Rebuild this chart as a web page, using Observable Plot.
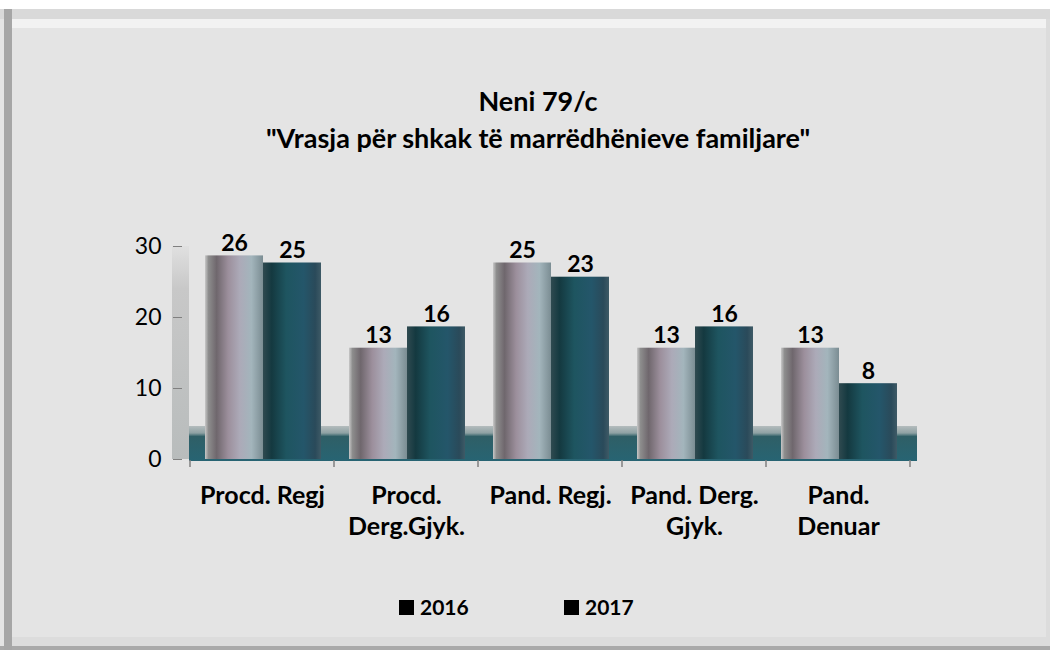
<!DOCTYPE html>
<html><head><meta charset="utf-8">
<script src="https://cdn.jsdelivr.net/npm/d3@7"></script>
<script src="https://cdn.jsdelivr.net/npm/@observablehq/plot@0.6"></script>
<style>
body{margin:0;background:#fff;font-family:Lato,"Noto Sans",sans-serif;}
#frame{position:relative;width:1050px;height:650px;overflow:hidden;background:#fff;}
.blk{position:absolute;}
#title{position:absolute;left:0;width:1076px;top:82px;text-align:center;font-weight:bold;font-size:27px;line-height:37px;color:#000;}
#chart{position:absolute;left:0;top:170px;}
#legend{position:absolute;left:0;top:0;width:1050px;height:650px;pointer-events:none;}
.sw{position:absolute;width:15px;height:15px;background:#000;}
.lt{position:absolute;font-weight:bold;font-size:21px;line-height:21px;color:#000;}
</style></head><body>
<div id="frame">
  <div class="blk" style="left:0;top:9px;width:1050px;height:637px;background:#e4e4e4"></div>
  <div class="blk" style="left:0;top:9px;width:1050px;height:10px;background:#d9d9d9"></div>
  <div class="blk" style="left:12px;top:19px;width:1034px;height:9px;background:#f2f2f2"></div>
  <div class="blk" style="left:12px;top:637px;width:1038px;height:9px;background:#dcdcdc"></div>
  <div class="blk" style="left:1046px;top:19px;width:4px;height:627px;background:#dcdcdc"></div>
  <div class="blk" style="left:0;top:646px;width:1050px;height:4px;background:#a9a9a9"></div>
  <div class="blk" style="left:4px;top:9px;width:8px;height:641px;background:#a6a6a6"></div>
  <div id="title"><div>Neni 79/c</div><div>"Vrasja për shkak të marrëdhënieve familjare"</div></div>
  <div id="chart"></div>
  <div id="legend"></div>
</div>
<script>
const categories = ["Procd. Regj", "Procd.\nDerg.Gjyk.", "Pand. Regj.", "Pand. Derg.\nGjyk.", "Pand.\nDenuar"];
const years = ["2016", "2017"];
const values2016 = [26, 13, 25, 13, 13];
const values2017 = [25, 16, 23, 16, 8];
const yTicks = [0, 10, 20, 30];

const rows2016 = categories.map((c, i) => ({category: c, year: years[0], value: values2016[i]}));
const rows2017 = categories.map((c, i) => ({category: c, year: years[1], value: values2017[i]}));

const depth = 19;             // 3D lift of the bar tops
const inset2016 = [15, 71];   // left, right inset inside category band
const inset2017 = [73, 13];

const decor = (index, scales, values, dims) => {
  const g = d3.create("svg:g");
  const defs = g.append("defs");
  const grad = (id, stops, vertical) => {
    const lg = defs.append("linearGradient").attr("id", id)
      .attr("x1", 0).attr("y1", 0).attr("x2", vertical ? 0 : 1).attr("y2", vertical ? 1 : 0);
    stops.forEach(([o, c]) => lg.append("stop").attr("offset", o).attr("stop-color", c));
  };
  grad("g2016", [[0, "#c8c8c8"], [0.06, "#8d8d8d"], [0.2, "#6f676d"], [0.4, "#9c8f9c"], [0.6, "#acaab8"], [0.8, "#a3b5bc"], [1, "#7b8d93"]]);
  grad("g2017", [[0, "#2f4a50"], [0.15, "#143940"], [0.4, "#1e5560"], [0.7, "#24566a"], [0.9, "#2a4a5a"], [1, "#3e5a66"]]);
  grad("gfloor", [[0, "#b4bcbd"], [0.2, "#8fa2a4"], [0.3, "#2f5f66"], [1, "#276473"]], true);
  grad("gwall", [[0, "#e0e0e0"], [0.2, "#c8c8c8"], [1, "#b8bcbc"]], true);
  const x0 = dims.marginLeft, x1 = dims.width - dims.marginRight;
  const y0 = scales.y(0), yTop = scales.y(yTicks[yTicks.length - 1]);
  g.append("rect").attr("x", x0 - 17).attr("y", yTop).attr("width", 17).attr("height", y0 - yTop).attr("fill", "url(#gwall)");
  g.append("rect").attr("x", x0).attr("y", y0 - depth - 14).attr("width", x1 - x0 + 7).attr("height", depth + 16).attr("fill", "url(#gfloor)");
  const bounds = categories.map(c => scales.x(c)).concat([x1]);
  bounds.forEach(b => g.append("line").attr("x1", b).attr("x2", b).attr("y1", y0 + 1).attr("y2", y0 + 8).attr("stroke", "#808080").attr("stroke-width", 1.5));
  return g.node();
};

const chart = Plot.plot({
  width: 1050, height: 400,
  marginLeft: 189, marginRight: 140, marginTop: 76, marginBottom: 111,
  style: {background: "transparent", fontFamily: "Lato, sans-serif", overflow: "visible"},
  x: {domain: categories, padding: 0, axis: null},
  y: {domain: [0, 30], axis: null},
  marks: [
    decor,
    Plot.barY(rows2016, {x: "category", y: "value", fill: "url(#g2016)", insetLeft: inset2016[0], insetRight: inset2016[1], insetTop: -depth}),
    Plot.barY(rows2017, {x: "category", y: "value", fill: "url(#g2017)", insetLeft: inset2017[0], insetRight: inset2017[1], insetTop: -depth}),
    Plot.text(rows2016, {x: "category", y: "value", text: "value", dx: (inset2016[0] - inset2016[1]) / 2, dy: -depth - 5, lineAnchor: "bottom", fontSize: 23, fontWeight: "bold", fill: "#000"}),
    Plot.text(rows2017, {x: "category", y: "value", text: "value", dx: (inset2017[0] - inset2017[1]) / 2, dy: -depth - 5, lineAnchor: "bottom", fontSize: 23, fontWeight: "bold", fill: "#000"}),
    Plot.axisY({ticks: yTicks, label: null, tickSize: 9, dx: -7, tickPadding: 12, fontSize: 23, stroke: "#808080", fill: "#000"}),
    Plot.axisX({label: null, tickSize: 0, tickPadding: 22, fontSize: 25, fontWeight: "bold", lineHeight: 1.25, fill: "#000"})
  ]
});
document.getElementById("chart").appendChild(chart);

const legend = document.getElementById("legend");
const swatchLeft = [399, 564];
years.forEach((y, i) => {
  const s = document.createElement("div");
  s.className = "sw"; s.style.left = swatchLeft[i] + "px"; s.style.top = "600px";
  legend.appendChild(s);
  const t = document.createElement("div");
  t.className = "lt"; t.textContent = y; t.style.left = (swatchLeft[i] + 21) + "px"; t.style.top = "596px";
  legend.appendChild(t);
});
</script>
</body></html>
